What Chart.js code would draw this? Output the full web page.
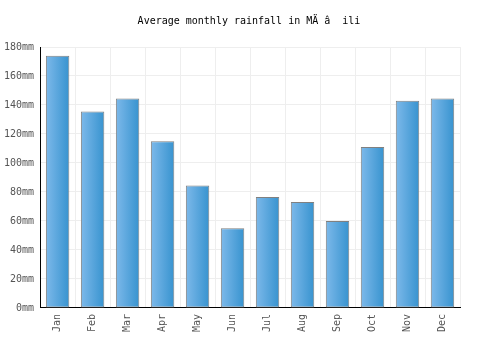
<!DOCTYPE html>
<html>
<head>
    <title>Average monthly rainfall</title>
    <script src="https://cdn.jsdelivr.net/npm/chart.js"></script>
    <style>
        body {
            margin: 0;
            padding: 0;
            background: #ffffff;
        }

        .chart-container {
            width: 500px;
            height: 350px;
        }
    </style>
</head>
<body>
<div class="chart-container">
    <canvas id="rainfallChart" width="500" height="350"></canvas>
</div>

<script>
    // data
    const months = ['Jan', 'Feb', 'Mar', 'Apr', 'May', 'Jun', 'Jul', 'Aug', 'Sep', 'Oct', 'Nov', 'Dec'];
    const rainfall = [174, 135.5, 144.5, 115, 84.5, 55, 76.5, 73, 60, 111, 143, 144.5];
    const yTicks = [0, 20, 40, 60, 80, 100, 120, 140, 160, 180];

    const monoFont = "'DejaVu Sans Mono', monospace";

    // horizontal light-to-dark gradient on each bar
    const barGradient = {
        id: 'barGradient',
        beforeDatasetsDraw(chart) {
            const ctx = chart.ctx;
            chart.getDatasetMeta(0).data.forEach(bar => {
                const left = bar.x - bar.width / 2;
                const right = bar.x + bar.width / 2;
                const grad = ctx.createLinearGradient(left, 0, right, 0);
                grad.addColorStop(0, '#7db9ea');
                grad.addColorStop(1, '#3793cf');
                bar.options.backgroundColor = grad;
            });
        }
    };

    new Chart(document.getElementById('rainfallChart').getContext('2d'), {
        type: 'bar',
        data: {
            labels: months,
            datasets: [{
                label: 'Rainfall (mm)',
                data: rainfall,
                // scriptable so every bar gets its own options object
                backgroundColor: () => '#5aa8de',
                borderColor: '#808080',
                borderWidth: 1,
                borderSkipped: false,
                categoryPercentage: 0.67,
                barPercentage: 1
            }]
        },
        options: {
            responsive: false,
            animation: false,
            layout: {
                padding: {left: -2, right: 0, top: 0, bottom: 12}
            },
            plugins: {
                legend: {display: false},
                tooltip: {enabled: false},
                title: {
                    display: true,
                    text: 'Average monthly rainfall in MÄ â  ili',
                    color: '#000000',
                    font: {family: monoFont, size: 10, weight: 'normal'},
                    padding: {top: 15, bottom: 20}
                }
            },
            scales: {
                x: {
                    grid: {
                        color: '#eeeeee',
                        offset: true,
                        drawTicks: false
                    },
                    border: {color: '#000000', width: 1},
                    ticks: {
                        color: '#555555',
                        font: {family: monoFont, size: 10},
                        minRotation: 90,
                        maxRotation: 90,
                        padding: 6
                    }
                },
                y: {
                    min: 0,
                    max: 180,
                    afterBuildTicks: axis => {
                        axis.ticks = yTicks.map(v => ({value: v}));
                    },
                    grid: {
                        color: '#eeeeee',
                        drawTicks: false
                    },
                    border: {color: '#000000', width: 1},
                    ticks: {
                        color: '#555555',
                        font: {family: monoFont, size: 10},
                        padding: 6,
                        callback: value => value + 'mm'
                    }
                },
                // empty spacer on the right so the title stays centred on the canvas
                spacer: {
                    position: 'right',
                    min: 0,
                    max: 1,
                    grid: {display: false},
                    border: {display: false},
                    ticks: {display: false},
                    afterFit: axis => {
                        axis.width = 40;
                    }
                }
            }
        },
        plugins: [barGradient]
    });
</script>
</body>
</html>
